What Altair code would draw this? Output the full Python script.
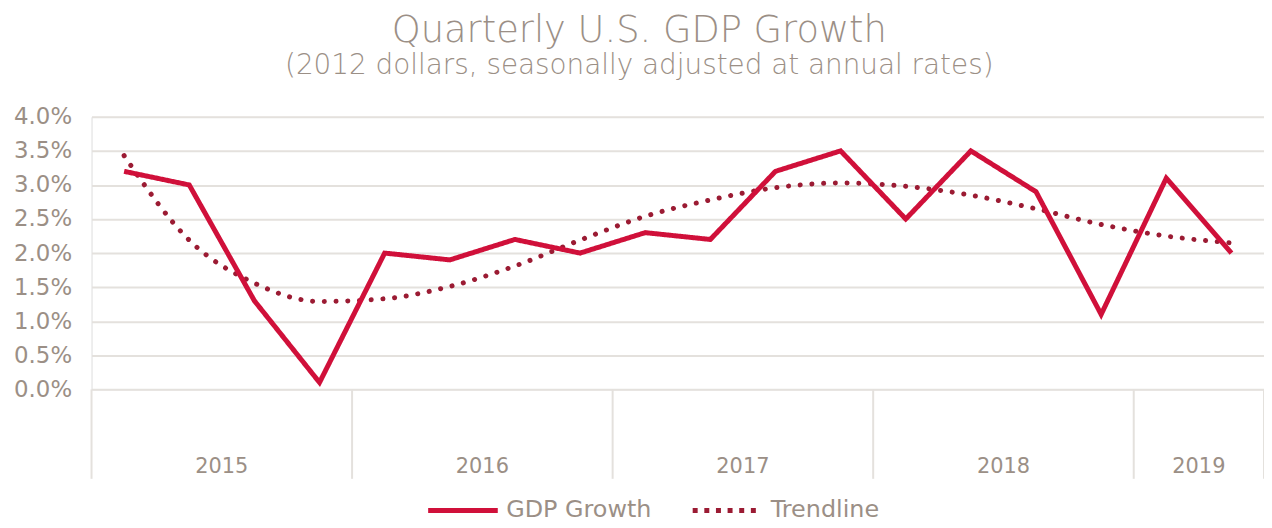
import altair as alt
import pandas as pd

# ---- data ----
quarters = ["Q1", "Q2", "Q3", "Q4"] * 4 + ["Q1", "Q2"]
years = [2015] * 4 + [2016] * 4 + [2017] * 4 + [2018] * 4 + [2019] * 2
gdp_growth = [3.2, 3.0, 1.3, 0.1, 2.0, 1.9, 2.2, 2.0, 2.3, 2.2, 3.2, 3.5, 2.5, 3.5, 2.9, 1.1, 3.1, 2.0]
trendline = [3.43, 2.19, 1.56, 1.29, 1.33, 1.51, 1.81, 2.19, 2.54, 2.78, 2.96, 3.03, 2.98, 2.85, 2.65, 2.42, 2.25, 2.15]
year_labels = ["2015", "2016", "2017", "2018", "2019"]
quarters_per_year = [4, 4, 4, 4, 2]
series_names = ["GDP Growth", "Trendline"]
y_ticks = [0.0, 0.5, 1.0, 1.5, 2.0, 2.5, 3.0, 3.5, 4.0]

# ---- tables ----
n = len(quarters)
gdp_df = pd.DataFrame({
    "pos": [i + 0.5 for i in range(n)],
    "quarter": [f"{y} {q}" for y, q in zip(years, quarters)],
    "value": [v / 100 for v in gdp_growth],
    "series": series_names[0],
})
trend_df = pd.DataFrame({
    "pos": [i + 0.5 for i in range(n)],
    "quarter": [f"{y} {q}" for y, q in zip(years, quarters)],
    "value": [v / 100 for v in trendline],
    "series": series_names[1],
})
starts = []
s = 0
for k in quarters_per_year:
    starts.append(s)
    s += k
year_df = pd.DataFrame({
    "label": year_labels,
    "start": starts,
    "center": [st + k / 2 for st, k in zip(starts, quarters_per_year)],
})
bound_df = pd.DataFrame({"b": starts + [s]})

TEXT = "#9b8f86"
GRID = "#e4e1dd"
FONT = "DejaVu Sans"
PLOT_W = 1179
PLOT_H = 274

xscale = alt.Scale(domain=[0, n], nice=False, zero=False)
yscale = alt.Scale(domain=[0, 0.04], nice=False)

legend_kw = dict(
    title=None, orient="none", legendX=336, legendY=358, direction="horizontal",
    symbolType="stroke", symbolSize=4900, symbolStrokeWidth=5,
    labelFontSize=24, labelColor=TEXT, labelFont=FONT, labelFontWeight="normal",
    labelOffset=6, columnPadding=30,
)
color = alt.Color(
    "series:N",
    scale=alt.Scale(domain=series_names, range=["#d0103a", "#9b1b33"]),
    legend=alt.Legend(**legend_kw),
)
dash = alt.StrokeDash(
    "series:N",
    scale=alt.Scale(domain=series_names, range=[[1, 0], [5, 6.7]]),
    legend=alt.Legend(**legend_kw),
)

x_enc = alt.X("pos:Q", scale=xscale, axis=None)
y_enc = alt.Y(
    "value:Q", scale=yscale,
    axis=alt.Axis(
        title=None, values=[t / 100 for t in y_ticks], format=".1%",
        labelFontSize=23, labelColor=TEXT, labelFont=FONT, labelFontWeight="normal",
        labelPadding=20, ticks=False, domain=False, grid=True, gridColor=GRID, gridWidth=2,
    ),
)

gdp_line = alt.Chart(gdp_df).mark_line(strokeWidth=5, strokeCap="butt", strokeJoin="miter").encode(
    x=x_enc, y=y_enc, color=color, strokeDash=dash
)
trend_line = alt.Chart(trend_df).mark_line(
    strokeWidth=5, strokeCap="round", strokeDash=[0.1, 11.7], interpolate="monotone"
).encode(
    x=x_enc, y=y_enc, color=color
)

bounds = alt.Chart(bound_df).mark_rule(color=GRID, strokeWidth=2).encode(
    x=alt.X("b:Q", scale=xscale, axis=None),
    y=alt.value(PLOT_H),
    y2=alt.value(PLOT_H + 90),
)
year_text = alt.Chart(year_df).mark_text(
    fontSize=21, color=TEXT, font=FONT, fontWeight="normal", baseline="middle"
).encode(
    x=alt.X("center:Q", scale=xscale, axis=None),
    y=alt.value(PLOT_H + 78),
    text="label:N",
)

chart = alt.layer(bounds, year_text, trend_line, gdp_line).properties(
    width=PLOT_W,
    height=PLOT_H,
    title=alt.Title(
        "Quarterly U.S. GDP Growth",
        subtitle="(2012 dollars, seasonally adjusted at annual rates)",
        fontSize=37, subtitleFontSize=28, color=TEXT, subtitleColor=TEXT,
        font=FONT, subtitleFont=FONT, fontWeight=300, subtitleFontWeight=300,
        anchor="middle", frame="bounds", offset=25, subtitlePadding=2,
    ),
    autosize=alt.AutoSizeParams(type="none"),
    padding={"left": 84, "top": 108, "right": 0, "bottom": 136},
).configure_view(stroke=None).configure(background="white")

chart.save("out.html", embed_options={"renderer": "svg", "actions": False})
